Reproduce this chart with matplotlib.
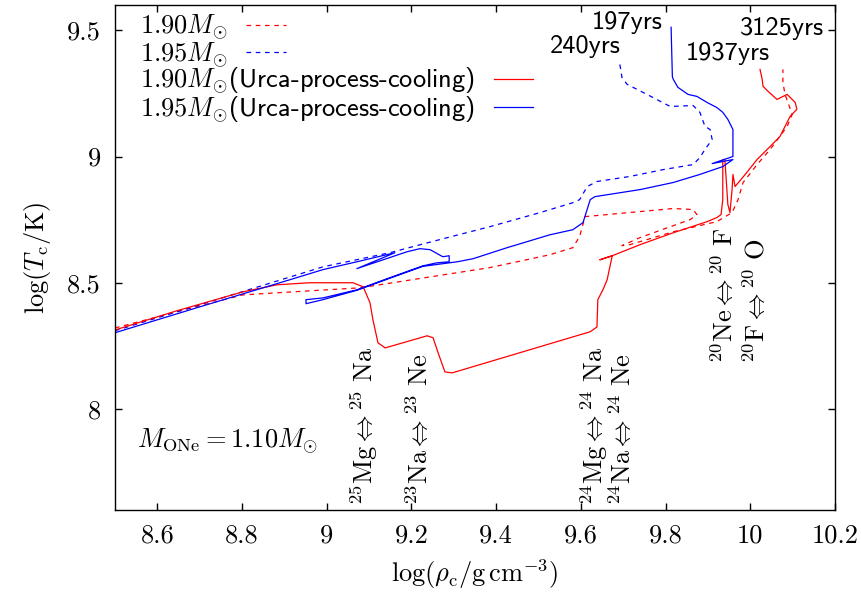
import matplotlib
matplotlib.use('Agg')
import numpy as np
import matplotlib.pyplot as plt
from matplotlib.ticker import FuncFormatter

# ---------------- data (log rho_c, log T_c) ----------------
# 1.90 Msun, no Urca cooling (dashed red)
rho_190 = [8.500, 8.646, 8.802, 8.960, 9.079, 9.385, 9.527, 9.581, 9.597, 9.610,
           9.662, 9.740, 9.818, 9.865, 9.874, 9.858, 9.818, 9.740, 9.697, 9.716,
           9.818, 9.921, 9.957, 9.971, 9.983, 10.016, 10.047, 10.087, 10.099,
           10.082, 10.077, 10.077]
T_190 = [8.321, 8.385, 8.452, 8.468, 8.480, 8.560, 8.611, 8.639, 8.683, 8.762,
         8.770, 8.782, 8.794, 8.790, 8.770, 8.750, 8.726, 8.679, 8.647, 8.651,
         8.702, 8.742, 8.778, 8.829, 8.897, 8.968, 9.028, 9.119, 9.167,
         9.246, 9.294, 9.345]

# 1.95 Msun, no Urca cooling (dashed blue)
rho_195 = [8.500, 8.701, 8.991, 9.149, 9.267, 9.385, 9.504, 9.581, 9.597, 9.615,
           9.638, 9.716, 9.794, 9.865, 9.881, 9.893, 9.910, 9.905, 9.893, 9.881,
           9.865, 9.811, 9.756, 9.709, 9.697, 9.692]
T_195 = [8.310, 8.413, 8.563, 8.619, 8.671, 8.722, 8.778, 8.817, 8.829, 8.881,
         8.901, 8.921, 8.948, 8.968, 8.996, 9.028, 9.067, 9.107, 9.119, 9.175,
         9.202, 9.198, 9.246, 9.286, 9.313, 9.365]

# 1.90 Msun, with Urca-process cooling (solid red)
rho_190u = [8.500, 8.646, 8.802, 8.883, 8.960, 9.062, 9.086, 9.102, 9.109, 9.121,
            9.138, 9.237, 9.251, 9.263, 9.279, 9.296, 9.622, 9.638, 9.640, 9.652,
            9.662, 9.674, 9.645, 9.674, 9.740, 9.818, 9.898, 9.921, 9.931, 9.935,
            9.935, 9.940, 9.947, 9.952, 9.957, 9.959, 9.964, 9.988, 10.016, 10.047,
            10.070, 10.094, 10.110, 10.106, 10.087, 10.063, 10.042, 10.030, 10.028,
            10.023]
T_190u = [8.313, 8.389, 8.464, 8.492, 8.500, 8.500, 8.484, 8.421, 8.353, 8.262,
          8.242, 8.290, 8.282, 8.222, 8.147, 8.143, 8.306, 8.325, 8.433, 8.472,
          8.512, 8.607, 8.591, 8.607, 8.651, 8.698, 8.742, 8.758, 8.770, 8.829,
          8.988, 8.988, 8.810, 8.778, 8.869, 8.929, 8.881, 8.929, 8.988, 9.040,
          9.079, 9.159, 9.187, 9.214, 9.246, 9.226, 9.258, 9.278, 9.306,
          9.345]

# 1.95 Msun, with Urca-process cooling (solid blue)
rho_195u = [8.500, 8.701, 8.913, 8.991, 9.071, 9.161, 9.071, 9.190, 9.220, 9.244,
            9.274, 9.289, 9.289, 9.260, 9.227, 9.149, 9.071, 8.991, 8.951, 8.951,
            8.991, 9.071, 9.149, 9.227, 9.308, 9.345, 9.426, 9.527, 9.581, 9.605,
            9.622, 9.633, 9.740, 9.818, 9.881, 9.935, 9.959, 9.910, 9.959, 9.959,
            9.947, 9.935, 9.921, 9.898, 9.874, 9.853, 9.829, 9.818, 9.816, 9.813]
T_195u = [8.302, 8.405, 8.512, 8.552, 8.583, 8.619, 8.556, 8.623, 8.635, 8.631,
          8.603, 8.607, 8.583, 8.579, 8.567, 8.520, 8.472, 8.440, 8.433, 8.417,
          8.433, 8.470, 8.518, 8.565, 8.583, 8.595, 8.639, 8.690, 8.710, 8.738,
          8.829, 8.841, 8.869, 8.897, 8.929, 8.960, 8.988, 8.972, 9.000, 9.107,
          9.147, 9.175, 9.194, 9.214, 9.238, 9.246, 9.274, 9.306, 9.317, 9.512]

legend_labels = [r'$1.90M_{\odot}$', r'$1.95M_{\odot}$',
                 r'$1.90M_{\odot}$(Urca-process-cooling)',
                 r'$1.95M_{\odot}$(Urca-process-cooling)']

age_labels = ['197yrs', '240yrs', '1937yrs', '3125yrs']
age_pos = [(9.709, 9.532), (9.610, 9.437), (9.947, 9.409), (10.075, 9.508)]

urca_labels = [r'${}^{25}\mathrm{Mg}\Leftrightarrow{}^{25}\ \mathrm{Na}$',
               r'${}^{23}\mathrm{Na}\Leftrightarrow{}^{23}\ \mathrm{Ne}$',
               r'${}^{24}\mathrm{Mg}\Leftrightarrow{}^{24}\ \mathrm{Na}$',
               r'${}^{24}\mathrm{Na}\Leftrightarrow{}^{24}\ \mathrm{Ne}$',
               r'${}^{20}\mathrm{Ne}\Leftrightarrow{}^{20}\ \mathrm{F}$',
               r'${}^{20}\mathrm{F}\Leftrightarrow{}^{20}\ \mathrm{O}$']
urca_pos = [(9.088, 7.62), (9.218, 7.62), (9.631, 7.62), (9.697, 7.62),
            (9.938, 8.183), (10.014, 8.183)]

x_ticks = [8.6, 8.8, 9.0, 9.2, 9.4, 9.6, 9.8, 10.0, 10.2]
y_ticks = [8.0, 8.5, 9.0, 9.5]

# ---------------- style ----------------
plt.rcParams['mathtext.fontset'] = 'cm'
plt.rcParams['font.family'] = ['cmr10', 'DejaVu Serif']
plt.rcParams['axes.formatter.use_mathtext'] = True
plt.rcParams['axes.unicode_minus'] = False

FS = 19
RED = '#ff0000'
BLUE = '#0000ff'
LW = 0.9
DASH = (3.7, 3.7)

fig = plt.figure(figsize=(8.62, 5.94), dpi=100)
ax = fig.add_axes([115 / 862, 84 / 594, 720 / 862, 505 / 594])

l_rd, = ax.plot(rho_190, T_190, color=RED, lw=LW, dashes=DASH, label=legend_labels[0])
l_bd, = ax.plot(rho_195, T_195, color=BLUE, lw=LW, dashes=DASH, label=legend_labels[1])
l_rs, = ax.plot(rho_190u, T_190u, color=RED, lw=LW, label=legend_labels[2])
l_bs, = ax.plot(rho_195u, T_195u, color=BLUE, lw=LW, label=legend_labels[3])

ax.set_xlim(8.5, 10.2)
ax.set_ylim(7.6, 9.6)
ax.set_xticks(x_ticks)
ax.set_yticks(y_ticks)
fmt = FuncFormatter(lambda v, p: '%g' % v)
ax.xaxis.set_major_formatter(fmt)
ax.yaxis.set_major_formatter(fmt)
ax.tick_params(direction='in', top=True, right=True, length=5, width=1,
               labelsize=FS, pad=10)
for s in ax.spines.values():
    s.set_linewidth(1.0)

ax.set_xlabel(r'$\log(\rho_{\mathrm{c}}/\mathrm{g\,cm^{-3}})$', fontsize=FS, labelpad=7)
ax.set_ylabel(r'$\log(T_{\mathrm{c}}/\mathrm{K})$', fontsize=FS, labelpad=10)

legprops = dict(markerfirst=False, frameon=False, handlelength=1.5,
                handletextpad=0.7, labelspacing=-0.08, borderpad=0,
                borderaxespad=0, prop={'family': 'cmss10', 'size': FS},
                loc='upper left')
leg1 = ax.legend(handles=[l_rd, l_bd], bbox_to_anchor=(0.035, 0.985), **legprops)
ax.add_artist(leg1)
leg2 = ax.legend(handles=[l_rs, l_bs], bbox_to_anchor=(0.035, 0.880), **legprops)

for lab, (x, y) in zip(age_labels, age_pos):
    ax.text(x, y, lab, family='cmss10', fontsize=FS, ha='center', va='center')

for lab, (x, y) in zip(urca_labels, urca_pos):
    ax.text(x, y, lab, fontsize=FS, rotation=90, ha='center', va='bottom')

ax.text(8.552, 7.873, r'$M_{\mathrm{ONe}}=1.10M_{\odot}$', fontsize=FS,
        ha='left', va='center')

fig.savefig('out.png', dpi=100)
